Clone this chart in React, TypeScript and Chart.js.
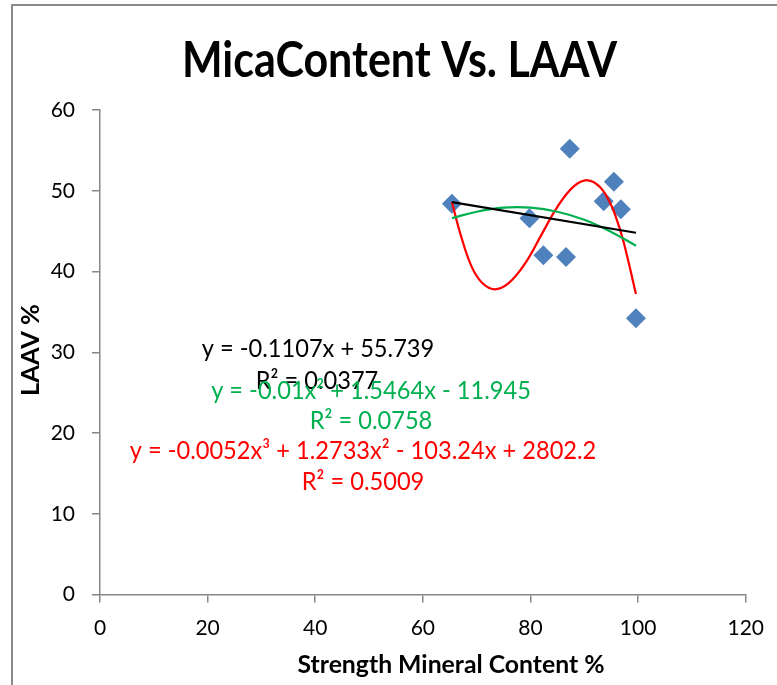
import React, { useEffect, useRef } from "react";
import { Chart, registerables } from "chart.js";

Chart.register(...registerables);

// Observed data (Strength Mineral Content %, LAAV %)
const mineralContent = [65.4, 79.8, 82.4, 86.6, 87.3, 93.6, 95.5, 96.8, 99.6];
const laavValues = [48.4, 46.6, 42.0, 41.8, 55.2, 48.7, 51.1, 47.7, 34.2];

// Linear trendline
const linearX = [65.4, 99.6];
const linearY = [48.6, 44.8];

// 2nd-order polynomial trendline
const quadX = [65.4, 70, 75, 80, 85, 90, 95, 99.6];
const quadY = [46.6, 47.4, 47.9, 47.9, 47.4, 46.4, 44.9, 43.2];

// 3rd-order polynomial trendline
const cubicX = [65.4, 67, 69, 71, 73.3, 76, 79, 82, 85, 88, 90.6, 93, 95, 96, 97, 98, 99.6];
const cubicY = [48.6, 44.6, 40.7, 38.6, 37.8, 38.6, 41.0, 44.5, 48.0, 50.5, 51.3, 50.4, 48.2, 46.5, 44.4, 41.8, 37.2];

const xTicks = [0, 20, 40, 60, 80, 100, 120];
const yTicks = [0, 10, 20, 30, 40, 50, 60];

const chartTitle = "MicaContent Vs. LAAV";
const xTitle = "Strength Mineral Content %";
const yTitle = "LAAV %";
const linearLabel = ["y = -0.1107x + 55.739", "R² = 0.0377"];
const quadLabel = ["y = -0.01x² + 1.5464x - 11.945", "R² = 0.0758"];
const cubicLabel = ["y = -0.0052x³ + 1.2733x² - 103.24x + 2802.2", "R² = 0.5009"];

const FONT = "Lato, 'Open Sans', sans-serif";

function drawText(
  ctx: CanvasRenderingContext2D,
  text: string,
  cx: number,
  baseline: number,
  font: string,
  color: string,
  scaleX?: number,
  targetWidth?: number
) {
  ctx.save();
  ctx.font = font;
  ctx.fillStyle = color;
  ctx.textAlign = "center";
  ctx.textBaseline = "alphabetic";
  const w = ctx.measureText(text).width;
  const sx = targetWidth ? targetWidth / w : scaleX || 1;
  ctx.translate(cx, baseline);
  ctx.scale(sx, 1);
  ctx.fillText(text, 0, 0);
  ctx.restore();
}

const textPlugin = {
  id: "textPlugin",
  afterDraw(chart: any) {
    const ctx: CanvasRenderingContext2D = chart.ctx;
    drawText(ctx, chartTitle, 399.5, 77, `bold 50px ${FONT}`, "#000", undefined, 435);
    drawText(ctx, xTitle, 451, 673, `bold 24px ${FONT}`, "#000", undefined, 307);
    ctx.save();
    ctx.translate(39, 350);
    ctx.rotate(-Math.PI / 2);
    drawText(ctx, yTitle, 0, 0, `bold 24px ${FONT}`, "#000", undefined, 92);
    ctx.restore();

    const f = `25px ${FONT}`;
    const s = 0.945;
    drawText(ctx, linearLabel[0], 318, 357, f, "#000000", s);
    drawText(ctx, linearLabel[1], 317, 389, f, "#000000", s);
    drawText(ctx, quadLabel[0], 371, 399, f, "#00B050", s);
    drawText(ctx, quadLabel[1], 371, 429, f, "#00B050", s);
    drawText(ctx, cubicLabel[0], 363, 459, f, "#FF0000", s);
    drawText(ctx, cubicLabel[1], 363, 490, f, "#FF0000", s);
  },
};

export default function App() {
  const canvasRef = useRef<HTMLCanvasElement | null>(null);

  useEffect(() => {
    const canvas = canvasRef.current;
    if (!canvas) return;
    const axisColor = "#878787";
    const chart = new Chart(canvas, {
      type: "scatter",
      data: {
        datasets: [
          {
            label: "Linear",
            data: linearX.map((x, i) => ({ x, y: linearY[i] })),
            showLine: true,
            borderColor: "#000000",
            borderWidth: 2.25,
            pointRadius: 0,
            order: 0,
          },
          {
            label: "Poly2",
            data: quadX.map((x, i) => ({ x, y: quadY[i] })),
            showLine: true,
            borderColor: "#00B050",
            borderWidth: 2.25,
            pointRadius: 0,
            tension: 0.4,
            order: 1,
          },
          {
            label: "Poly3",
            data: cubicX.map((x, i) => ({ x, y: cubicY[i] })),
            showLine: true,
            borderColor: "#FF0000",
            borderWidth: 2.25,
            pointRadius: 0,
            tension: 0.4,
            order: 2,
          },
          {
            label: "LAAV",
            data: mineralContent.map((x, i) => ({ x, y: laavValues[i] })),
            pointStyle: "rectRot",
            pointRadius: 10,
            pointHoverRadius: 10,
            backgroundColor: "#4F81BD",
            borderColor: "#4F81BD",
            borderWidth: 0,
            order: 3,
          },
        ],
      },
      options: {
        responsive: false,
        animation: false,
        devicePixelRatio: 1,
        layout: { padding: { top: 110, right: 30, left: 0, bottom: 0 } },
        plugins: {
          legend: { display: false },
          title: { display: false },
          tooltip: { enabled: false },
        },
        scales: {
          x: {
            type: "linear",
            min: 0,
            max: 120,
            afterBuildTicks: (s: any) => {
              s.ticks = xTicks.map((v) => ({ value: v }));
            },
            afterFit: (s: any) => {
              s.height = 90.5;
            },
            ticks: {
              color: "#000",
              font: { family: FONT, size: 21 },
              padding: 13,
              maxRotation: 0,
            },
            grid: {
              drawOnChartArea: false,
              drawTicks: true,
              tickLength: 8,
              color: axisColor,
              lineWidth: 1.5,
            },
            border: { display: true, color: axisColor, width: 1.5 },
          },
          y: {
            type: "linear",
            min: 0,
            max: 60,
            afterBuildTicks: (s: any) => {
              s.ticks = yTicks.map((v) => ({ value: v }));
            },
            afterFit: (s: any) => {
              s.width = 100;
            },
            ticks: {
              color: "#000",
              font: { family: FONT, size: 21 },
              padding: 17,
            },
            grid: {
              drawOnChartArea: false,
              drawTicks: true,
              tickLength: 8,
              color: axisColor,
              lineWidth: 1.5,
            },
            border: { display: true, color: axisColor, width: 1.5 },
          },
        },
      },
      plugins: [textPlugin],
    });
    return () => chart.destroy();
  }, []);

  return (
    <div
      style={{
        position: "absolute",
        left: 0,
        top: 0,
        width: 777,
        height: 685,
        overflow: "hidden",
        background: "#ffffff",
      }}
    >
      <div
        style={{
          position: "absolute",
          left: 11,
          top: 4,
          width: 900,
          height: 900,
          borderLeft: "2px solid #8a8a8a",
          borderTop: "2px solid #8a8a8a",
        }}
      />
      <canvas
        ref={canvasRef}
        width={777}
        height={685}
        style={{ position: "absolute", left: 0, top: 0, width: 777, height: 685 }}
      />
    </div>
  );
}
